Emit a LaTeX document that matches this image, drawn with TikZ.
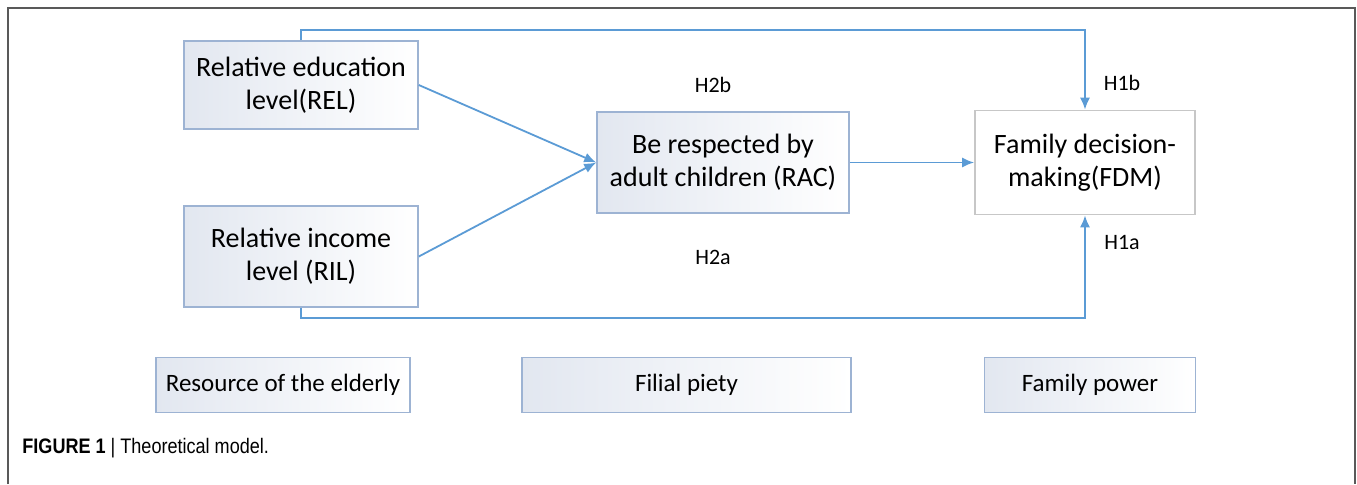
\documentclass[tikz,border=0pt]{standalone}
\usepackage{fontspec}
\setmainfont{Carlito}
\newfontfamily\capfont[FakeStretch=0.86]{Liberation Sans}
\usetikzlibrary{arrows.meta}

\definecolor{linkblue}{HTML}{5B9BD5}
\definecolor{boxline}{HTML}{9DB3D3}
\definecolor{boxfill}{HTML}{E2E7F0}

\tikzset{
  varbox/.style={draw=boxline,line width=0.8pt,left color=boxfill,right color=white,
    inner sep=0pt,align=center,font=\fontsize{14}{16.5}\selectfont},
  groupbox/.style={varbox,font=\fontsize{12.5}{14}\selectfont},
  link/.style={linkblue,line width=0.9pt,-{Latex[length=6pt,width=5pt]}},
  hyp/.style={font=\fontsize{11}{12}\selectfont}
}

\begin{document}
\begin{tikzpicture}[x=0.5pt,y=-0.5pt]
\useasboundingbox (0,0) rectangle (1357,484);

% frame
\draw[black!65,line width=1pt] (8,484) -- (8,8) -- (1355,8) -- (1355,484);

% variables
\node[varbox,minimum width=117pt,minimum height=44pt] (REL) at (301,85) {Relative education\\level(REL)};
\node[varbox,minimum width=117pt,minimum height=50.5pt] (RIL) at (301,256.5) {Relative income\\level (RIL)};
\node[varbox,minimum width=126pt,minimum height=50.5pt] (RAC) at (723,162.5) {Be respected by\\adult children (RAC)};
\node[varbox,draw=black!22,left color=white,minimum width=110pt,minimum height=52pt] (FDM) at (1085,162.5) {Family decision-\\making(FDM)};

% groups
\node[groupbox,minimum width=127pt,minimum height=27.5pt] (res) at (283,385) {Resource of the elderly};
\node[groupbox,minimum width=164.5pt,minimum height=27.5pt] (fil) at (686.5,385) {Filial piety};
\node[groupbox,minimum width=105.5pt,minimum height=27.5pt] (pow) at (1090,385) {Family power};

% paths
\draw[link] (REL.east) -- (RAC.west);
\draw[link] (RIL.east) -- (RAC.west);
\draw[link] (RAC.east) -- (FDM.west);
\draw[link] (REL.north) -- (REL.north |- 0,30) -| (FDM.north);
\draw[link] (RIL.south) -- (RIL.south |- 0,318) -| (FDM.south);

\node[hyp] (h2b) at (713,85) {H2b};
\node[hyp] (h2a) at (713,257) {H2a};
\node[hyp] (h1b) at (1122,83) {H1b};
\node[hyp] (h1a) at (1122,242) {H1a};

% caption
\node[anchor=west,inner sep=0pt,font=\capfont\fontsize{10.5}{12}\selectfont] (cap) at (22,448)
  {\textbf{FIGURE 1} \textbar\ Theoretical model.};
\end{tikzpicture}
\end{document}
